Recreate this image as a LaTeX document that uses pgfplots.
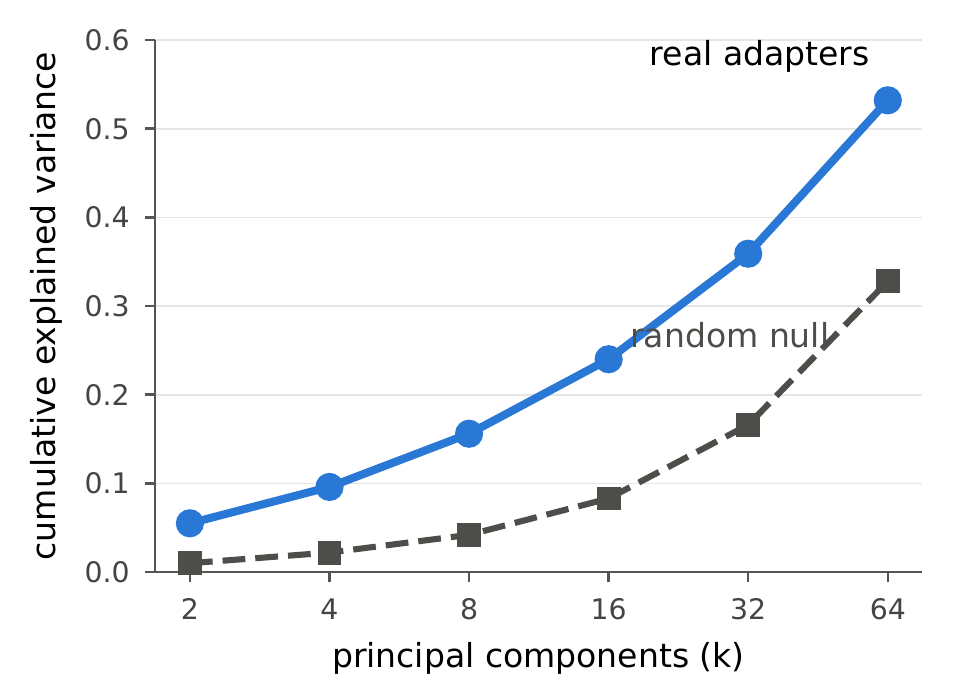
\documentclass[border=0pt]{standalone}
\usepackage{fontspec}
\setmainfont{DejaVu Sans}
\usepackage{pgfplots}
\pgfplotsset{compat=1.18}

\definecolor{realblue}{HTML}{2A78D6}
\definecolor{nullgray}{HTML}{4D4D4A}
\definecolor{spine}{HTML}{555555}
\definecolor{ticktext}{HTML}{444444}
\definecolor{gridc}{HTML}{E6E6E6}

\begin{document}
\begin{tikzpicture}
\begin{axis}[
  name=ax,
  scale only axis,
  width=276pt, height=191.5pt,
  xmode=log, log basis x=2,
  xmin=1.682, xmax=75.8,
  ymin=0, ymax=0.6,
  xtick={2,4,8,16,32,64},
  xticklabels={2,4,8,16,32,64},
  ytick={0,0.1,0.2,0.3,0.4,0.5,0.6},
  yticklabel style={/pgf/number format/fixed,
    /pgf/number format/fixed zerofill,
    /pgf/number format/precision=1, xshift=-2pt},
  /pgf/number format/assume math mode=true,
  axis x line*=bottom, axis y line*=left,
  axis line style={spine, line width=1pt},
  tick style={spine, line width=0.9pt},
  tick align=outside,
  major tick length=3.6pt,
  ticklabel style={font=\fontsize{10.2}{12}\selectfont, text=ticktext},
  xticklabel style={yshift=-2.5pt},
  ymajorgrids,
  grid style={gridc, line width=0.6pt},
  xlabel={principal components (k)},
  ylabel={cumulative explained variance},
  label style={font=\fontsize{11.9}{14}\selectfont},
  xlabel style={yshift=-1pt},
  ylabel style={yshift=1pt},
  clip=false,
]
\addplot[nullgray, line width=2.2pt, dash pattern=on 8.2pt off 3.6pt,
  mark=square*, mark size=3.2pt, mark options={solid, draw=none, fill=nullgray}]
  coordinates {(2,0.010) (4,0.022) (8,0.042) (16,0.083) (32,0.166) (64,0.328)};
\addplot[realblue, line width=2.9pt,
  mark=*, mark size=3.6pt, mark options={draw=none, fill=realblue}]
  coordinates {(2,0.055) (4,0.096) (8,0.156) (16,0.240) (32,0.359) (64,0.532)};
\node[font=\fontsize{11.9}{14}\selectfont, text=black] at (axis cs:33.9,0.581) {real adapters};
\node[font=\fontsize{11.9}{14}\selectfont, text=nullgray] at (axis cs:29.2,0.267) {random null};
\end{axis}
\path ([shift={(-55.8pt,-38.5pt)}]ax.south west) rectangle ([shift={(11.2pt,14.4pt)}]ax.north east);
\end{tikzpicture}
\end{document}
